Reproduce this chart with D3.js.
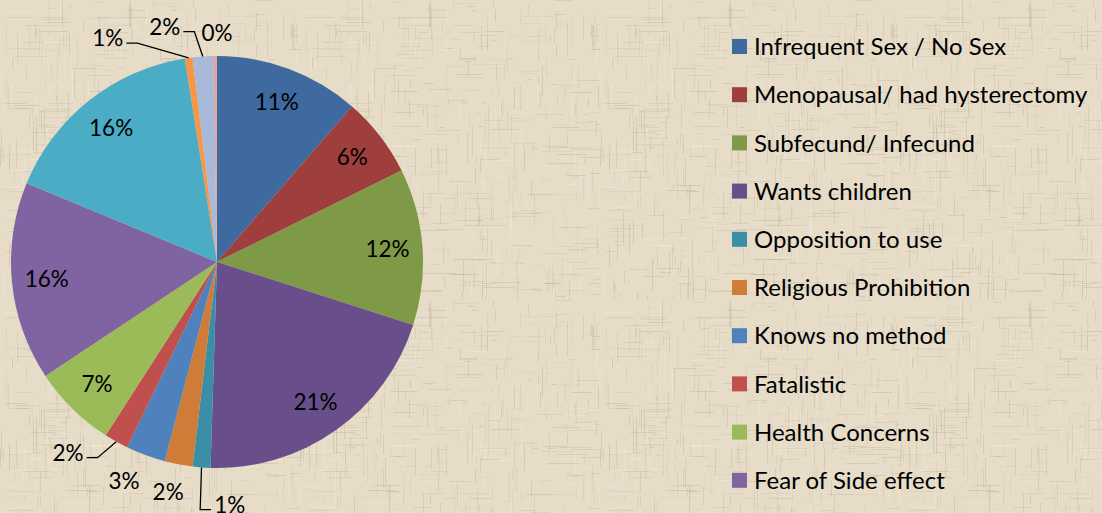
<!DOCTYPE html>
<html>
<head>
<meta charset="utf-8">
<script src="https://cdn.jsdelivr.net/npm/d3@7"></script>
<style>
  body { margin: 0; background: #e5dbc7; }
  svg { display: block; }
</style>
</head>
<body>
<script>
// reasons for non use, share of women (%)
var categories = ["Infrequent Sex / No Sex", "Menopausal/ had hysterectomy", "Subfecund/ Infecund",
  "Wants children", "Opposition to use", "Religious Prohibition", "Knows no method", "Fatalistic",
  "Health Concerns", "Fear of Side effect", null, null, null, null]; // last 4 are cut off in the picture
var values = [11.4, 6.3, 12.3, 20.6, 1.4, 2.2, 3.1, 1.9, 6.6, 15.6, 16.3, 0.6, 1.6, 0.3];
var colors = ["#3e6a9f", "#9e3f3d", "#7e9a47", "#684e8a", "#3a8fa6", "#cf7c38", "#4f81bd", "#c0504d",
  "#9bbb59", "#8064a2", "#4bacc6", "#f79646", "#a8b9d9", "#dba8a6"];

// label placement: null = inside the slice, else [angle deg, radius, leader line?]
var labelPlace = [null, null, null, null, [177, 243, true], [192, 235, false], [203, 238, false],
  [218, 242, true], null, null, null, [334, 249, true], [347.5, 241, true], [0, 229, false]];

var width = 1102, height = 513;
var cx = 217, cy = 262, R = 206;

var svg = d3.select("body").append("svg")
    .attr("width", width)
    .attr("height", height);

// parchment texture (fixed seed so it's always the same)
function rng(seed) {
    return function() {
        seed |= 0; seed = seed + 0x6D2B79F5 | 0;
        var t = Math.imul(seed ^ seed >>> 15, 1 | seed);
        t = t + Math.imul(t ^ t >>> 7, 61 | t) ^ t;
        return ((t ^ t >>> 14) >>> 0) / 4294967296;
    };
}
var rnd = rng(11);
var tile = 300;
var pat = svg.append("defs").append("pattern")
    .attr("id", "paper")
    .attr("patternUnits", "userSpaceOnUse")
    .attr("width", tile).attr("height", tile);
pat.append("rect").attr("width", tile).attr("height", tile).attr("fill", "#e6dcc8");
for (let i = 0; i < 900; i++) {
    let horiz = rnd() < 0.5;
    let p = Math.floor(rnd() * tile) + 0.5;
    let s = rnd() * tile;
    let len = 3 + rnd() * 30;
    let dark = rnd() < 0.65;
    pat.append("line")
        .attr("x1", horiz ? s : p).attr("x2", horiz ? s + len : p)
        .attr("y1", horiz ? p : s).attr("y2", horiz ? p : s + len)
        .attr("stroke", dark ? "#b8a98f" : "#f4eee2")
        .attr("stroke-width", 1)
        .attr("stroke-opacity", 0.12 + rnd() * 0.25);
}
svg.append("rect").attr("width", width).attr("height", height).attr("fill", "url(#paper)");

var pieData = d3.pie().sort(null).value(function(d) { return d; })(values);
var arc = d3.arc().innerRadius(0).outerRadius(R);

var g = svg.append("g").attr("transform", "translate(" + cx + "," + cy + ")");

g.selectAll("path").data(pieData).enter().append("path")
    .attr("d", arc)
    .attr("fill", function(d, i) { return colors[i]; });

function polar(a, r) { // a in radians, clockwise from top
    return [r * Math.sin(a), -r * Math.cos(a)];
}

var font = "Lato, 'Open Sans', sans-serif";

pieData.forEach(function(d, i) {
    var mid = (d.startAngle + d.endAngle) / 2;
    var txt = Math.round(values[i]) + "%";
    var place = labelPlace[i];
    var pos;
    if (!place) {
        pos = polar(mid, 171);
    } else {
        pos = polar(place[0] * Math.PI / 180, place[1]);
    }
    var t = g.append("text")
        .attr("x", pos[0]).attr("y", pos[1])
        .attr("dy", "0.36em")
        .attr("text-anchor", "middle")
        .attr("font-family", font)
        .attr("font-size", "22.5px")
        .attr("fill", "#000")
        .text(txt);
    if (place && place[2]) {
        var w = t.node().getComputedTextLength();
        var start = polar(mid, R);
        var ly = pos[1] + 5;
        var side = pos[0] > start[0] ? -1 : 1; // label left of start => line ends at its right edge
        var endX = pos[0] + side * (w / 2 + 3);
        var elbowX = endX + side * 11;
        g.append("polyline")
            .attr("points", [start, [elbowX, ly], [endX, ly]].map(function(p) { return p.join(","); }).join(" "))
            .attr("fill", "none")
            .attr("stroke", "#000")
            .attr("stroke-width", 1.3);
    }
});

// legend
var legend = svg.append("g").attr("transform", "translate(732, 46.5)");
var rows = legend.selectAll(".row")
    .data(categories.map(function(c, i) { return { name: c, i: i }; }).filter(function(d) { return d.name; }))
    .enter().append("g")
    .attr("class", "row")
    .attr("transform", function(d, i) { return "translate(0," + (i * 48.2) + ")"; });

rows.append("rect")
    .attr("x", 0).attr("y", -7.5)
    .attr("width", 15).attr("height", 15)
    .attr("fill", function(d) { return colors[d.i]; });

rows.append("text")
    .attr("x", 22).attr("y", 0)
    .attr("dy", "0.36em")
    .attr("font-family", font)
    .attr("font-size", "24px")
    .attr("fill", "#000")
    .text(function(d) { return d.name; });
</script>
</body>
</html>
